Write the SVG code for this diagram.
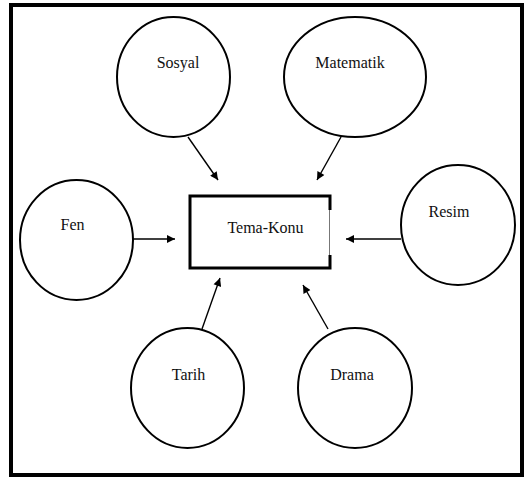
<svg xmlns="http://www.w3.org/2000/svg" width="529" height="480" viewBox="0 0 529 480">
<style>
.node{fill:#fff;stroke:#000;stroke-width:2}
text{font-family:'Liberation Serif','Times New Roman','DejaVu Serif',serif;font-size:16px;fill:#111;text-anchor:middle}
.conn{stroke:#000;stroke-width:1.4;fill:none}
</style>
<defs>
<marker id="ah" viewBox="0 0 10 10" refX="10" refY="5" markerWidth="10" markerHeight="8" markerUnits="userSpaceOnUse" orient="auto">
<path d="M0,0 L10,5 L0,10 z" fill="#000"/>
</marker>
</defs>
<rect x="0" y="0" width="529" height="480" fill="#fff"/>
<rect id="frame" x="11" y="5" width="511" height="470" fill="none" stroke="#000" stroke-width="4"/>
<g id="center">
<rect x="190" y="196" width="140" height="72" fill="#fff" stroke="none"/>
<path d="M330,210 L330,196 L190,196 L190,268 L330,268 L330,255" fill="none" stroke="#000" stroke-width="3"/>
<line x1="329.5" y1="210" x2="329.5" y2="255" stroke="#777" stroke-width="1"/>
<text x="265.5" y="233" font-family="Liberation Serif, serif" font-size="17.5">Tema-Konu</text>
</g>
<g id="sosyal"><ellipse cx="173.5" cy="77" rx="56.5" ry="60" class="node"/><text x="178" y="68" font-family="Liberation Serif, serif">Sosyal</text></g>
<g id="matematik"><ellipse cx="355" cy="77" rx="71" ry="60" class="node"/><text x="350" y="68" font-family="Liberation Serif, serif">Matematik</text></g>
<g id="fen"><ellipse cx="76.5" cy="240" rx="56.5" ry="60" class="node"/><text x="72.5" y="230" font-family="Liberation Serif, serif">Fen</text></g>
<g id="resim"><ellipse cx="458" cy="225" rx="57" ry="60" class="node"/><text x="449" y="217" font-family="Liberation Serif, serif">Resim</text></g>
<g id="tarih"><ellipse cx="187.5" cy="388" rx="56.5" ry="60" class="node"/><text x="188.5" y="380" font-family="Liberation Serif, serif">Tarih</text></g>
<g id="drama"><ellipse cx="355" cy="388" rx="57" ry="60" class="node"/><text x="352" y="380" font-family="Liberation Serif, serif">Drama</text></g>
<g id="connectors">
<line x1="188" y1="137" x2="218" y2="180" class="conn" marker-end="url(#ah)"/>
<line x1="341" y1="137" x2="317" y2="180" class="conn" marker-end="url(#ah)"/>
<line x1="133" y1="239" x2="175" y2="239" class="conn" marker-end="url(#ah)"/>
<line x1="401" y1="239" x2="346" y2="239" class="conn" marker-end="url(#ah)"/>
<line x1="202" y1="329" x2="220" y2="278" class="conn" marker-end="url(#ah)"/>
<line x1="328" y1="329" x2="303" y2="285" class="conn" marker-end="url(#ah)"/>
</g>
</svg>
